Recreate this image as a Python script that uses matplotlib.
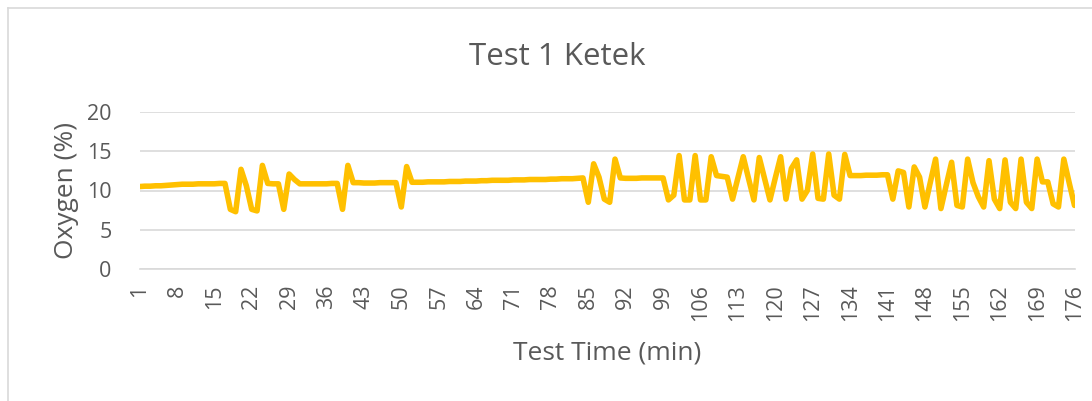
import numpy as np
import matplotlib
matplotlib.use("Agg")
import matplotlib.pyplot as plt
from matplotlib.lines import Line2D

# oxygen readings, one per minute
oxygen = [
    10.5, 10.55, 10.55, 10.6, 10.6, 10.65, 10.7, 10.75, 10.8, 10.8,          # 1-10
    10.8, 10.85, 10.85, 10.85, 10.85, 10.9, 10.9, 7.6, 7.3, 12.7,            # 11-20
    10.6, 7.6, 7.4, 13.2, 10.9, 10.85, 10.85, 7.6, 12.1, 11.4,               # 21-30
    10.85, 10.85, 10.85, 10.85, 10.85, 10.85, 10.9, 10.9, 7.6, 13.2,         # 31-40
    11.0, 11.0, 10.95, 10.95, 10.95, 11.0, 11.0, 11.0, 11.0, 7.9,            # 41-50
    13.05, 11.05, 11.05, 11.05, 11.1, 11.1, 11.1, 11.1, 11.15, 11.15,        # 51-60
    11.15, 11.2, 11.2, 11.2, 11.25, 11.25, 11.3, 11.3, 11.3, 11.3,           # 61-70
    11.35, 11.35, 11.35, 11.4, 11.4, 11.4, 11.4, 11.45, 11.45, 11.5,         # 71-80
    11.5, 11.5, 11.55, 11.6, 8.5, 13.4, 11.7, 8.9, 8.5, 14.0,                # 81-90
    11.6, 11.55, 11.55, 11.55, 11.6, 11.6, 11.6, 11.6, 11.6, 8.8,            # 91-100
    9.4, 14.45, 8.8, 8.8, 14.45, 8.8, 8.8, 14.3, 11.9, 11.8,                 # 101-110
    11.7, 8.9, 11.6, 14.3, 11.5, 8.8, 14.2, 11.5, 8.8, 11.6,                 # 111-120
    14.3, 8.9, 12.8, 13.9, 8.9, 10.0, 14.65, 9.0, 8.9, 14.65,                # 121-130
    9.4, 8.9, 14.6, 11.9, 11.9, 11.9, 11.95, 11.95, 11.95, 12.0,             # 131-140
    12.0, 8.9, 12.5, 12.3, 7.9, 13.0, 11.7, 7.9, 11.0, 14.0,                 # 141-150
    7.7, 10.7, 13.6, 8.1, 7.9, 14.0, 11.0, 9.2, 7.9, 13.8,                   # 151-160
    8.9, 7.7, 13.9, 8.5, 7.7, 14.0, 8.5, 7.7, 14.0, 11.1,                    # 161-170
    11.1, 8.3, 7.9, 14.0, 11.0, 8.1,                                         # 171-176
]
minutes = list(range(1, len(oxygen) + 1))
x_ticks = list(range(1, 177, 7))
y_ticks = [0, 5, 10, 15, 20]

title = "Test 1 Ketek"
x_label = "Test Time (min)"
y_label = "Oxygen (%)"

TEXT = "#595959"
GRID = "#D9D9D9"
LINE = "#FFC000"

plt.rcParams['font.family'] = ['Open Sans', 'DejaVu Sans']

W, H = 1092, 401
fig = plt.figure(figsize=(W / 100, H / 100), dpi=100)
fig.patch.set_facecolor("white")

# chart area border (left and top edge visible)
fig.add_artist(Line2D([8 / W, 8 / W], [0, 1 - 8 / H], color=GRID, lw=1.2))
fig.add_artist(Line2D([8 / W, 1], [1 - 8 / H, 1 - 8 / H], color=GRID, lw=1.2))

ax = fig.add_axes([139.5 / W, 1 - 269 / H, (1074.5 - 139.5) / W, (269 - 112) / H])
ax.plot(minutes, oxygen, color=LINE, lw=4.0, solid_joinstyle="round",
        solid_capstyle="round", zorder=3)

ax.set_xlim(1, 176)
ax.set_ylim(0, 20)
ax.set_yticks(y_ticks)
ax.set_xticks(x_ticks)
ax.set_xticklabels([str(t) for t in x_ticks], rotation=90)

ax.grid(axis="y", color=GRID, lw=1.2)
ax.set_axisbelow(True)
for s in ["top", "right", "left"]:
    ax.spines[s].set_visible(False)
ax.spines["bottom"].set_color(GRID)
ax.spines["bottom"].set_linewidth(1.2)

ax.tick_params(axis="both", length=0, colors=TEXT, labelsize=15.5)
ax.tick_params(axis="y", pad=20)
ax.tick_params(axis="x", pad=11)

ax.set_xlabel(x_label, fontsize=19, color=TEXT, labelpad=14)
ax.set_ylabel(y_label, fontsize=19, color=TEXT, labelpad=6)

fig.text(557 / W, 1 - 57 / H, title, fontsize=22.5, color=TEXT,
         ha="center", va="center")

fig.savefig("out.png", dpi=100, facecolor="white")
